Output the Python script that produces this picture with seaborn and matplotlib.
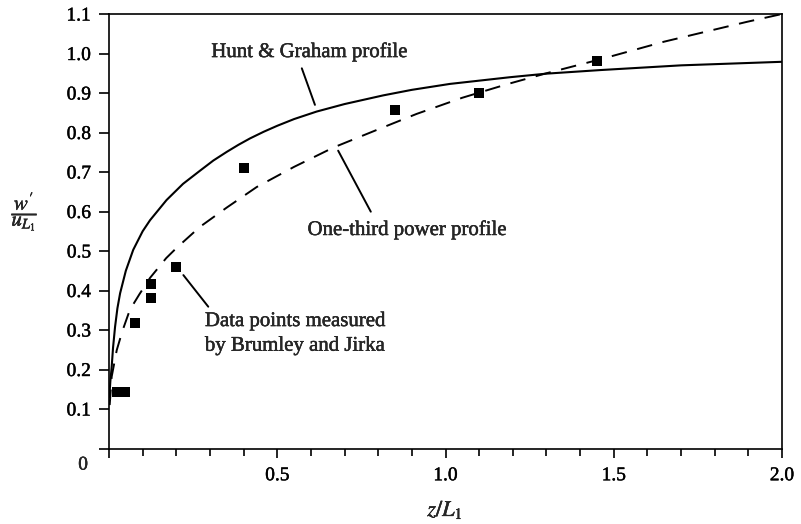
import numpy as np
import pandas as pd
import matplotlib
matplotlib.use("Agg")
import matplotlib.pyplot as plt
import matplotlib.patheffects as pe
import seaborn as sns
from matplotlib.ticker import MultipleLocator

# Hunt & Graham profile (solid curve)
hg_z = [0.001, 0.004, 0.008, 0.012, 0.018, 0.025, 0.033, 0.05, 0.072, 0.10, 0.122,
        0.171, 0.22, 0.270, 0.31, 0.350, 0.385, 0.419, 0.46, 0.50, 0.55, 0.617,
        0.70, 0.815, 0.90, 1.013, 1.192, 1.30, 1.459, 1.70, 2.0]
hg_w = [0.13, 0.17, 0.207, 0.255, 0.308, 0.355, 0.393, 0.45, 0.503, 0.55, 0.578,
        0.629, 0.67, 0.703, 0.729, 0.751, 0.769, 0.785, 0.802, 0.817, 0.834, 0.853,
        0.872, 0.894, 0.908, 0.923, 0.940, 0.949, 0.958, 0.970, 0.979]

# One-third power profile (dashed curve)
ot_z = [0.002, 0.008, 0.023, 0.04, 0.062, 0.09, 0.122, 0.17, 0.201, 0.27, 0.35,
        0.439, 0.55, 0.667, 0.80, 0.914, 1.05, 1.182, 1.30, 1.459, 1.65, 1.895, 2.0]
ot_w = [0.11, 0.182, 0.249, 0.298, 0.351, 0.39, 0.432, 0.482, 0.508, 0.561, 0.61,
        0.662, 0.713, 0.762, 0.808, 0.847, 0.888, 0.922, 0.95, 0.985, 1.03, 1.08, 1.10]

# Measurements by Brumley and Jirka
bj_z = [0.025, 0.048, 0.077, 0.125, 0.125, 0.20, 0.40, 0.85, 1.10, 1.45]
bj_w = [0.142, 0.142, 0.317, 0.416, 0.382, 0.46, 0.71, 0.857, 0.90, 0.98]

x_major = [0.0, 0.5, 1.0, 1.5, 2.0]
x_labels = ["", "0.5", "1.0", "1.5", "2.0"]
y_ticks = [round(0.1 * i, 1) for i in range(12)]
y_labels = [""] + [f"{v:.1f}" for v in y_ticks[1:]]

sns.set_theme(style="ticks")
plt.rcParams["font.family"] = ["Liberation Serif", "DejaVu Serif"]
plt.rcParams["mathtext.fontset"] = "stix"

ink = [pe.withStroke(linewidth=0.3, foreground="black")]

fig = plt.figure(figsize=(8.01, 5.24), dpi=100)
ax = fig.add_axes([109 / 801, 1 - 448.5 / 524, (782 - 109) / 801, (448.5 - 14) / 524])

hg = pd.DataFrame({"z": hg_z, "w": hg_w})
ot = pd.DataFrame({"z": ot_z, "w": ot_w})
bj = pd.DataFrame({"z": bj_z, "w": bj_w})

sns.lineplot(data=hg, x="z", y="w", ax=ax, color="black", lw=1.5, sort=False,
             estimator=None)
sns.lineplot(data=ot, x="z", y="w", ax=ax, color="black", lw=1.4, sort=False,
             estimator=None, linestyle=(0, (8.0, 5.5)))
sns.scatterplot(data=bj, x="z", y="w", ax=ax, marker="s", s=55, color="black",
                edgecolor="black", linewidth=0, zorder=5)

ax.set_xlim(0, 2.0)
ax.set_ylim(0, 1.1)
ax.set_xticks(x_major)
ax.set_xticklabels(x_labels)
ax.xaxis.set_minor_locator(MultipleLocator(0.1))
ax.set_yticks(y_ticks)
ax.set_yticklabels(y_labels)

for side in ["left", "right", "top", "bottom"]:
    ax.spines[side].set_visible(True)
    ax.spines[side].set_linewidth(1.2)
    ax.spines[side].set_color("black")

ax.tick_params(axis="both", which="major", direction="out", width=1.2,
               color="black", labelsize=14, labelcolor="black")
ax.tick_params(axis="y", which="major", length=7, pad=6)
ax.tick_params(axis="x", which="major", length=6.5, pad=7)
ax.tick_params(axis="x", which="minor", direction="out", length=5, width=1.2,
               color="black")

ax.set_xlabel("")
ax.set_ylabel("")

texts = list(ax.get_xticklabels()) + list(ax.get_yticklabels())

# shared origin label
texts.append(ax.text(-0.077, -0.042, "0", ha="center", va="center",
                     fontsize=14, clip_on=False))

# axis titles
texts.append(fig.text(445 / 801, 1 - 510 / 524, r"$z/L_1$", ha="center",
                      va="center", fontsize=16))
texts.append(fig.text(25 / 801, 1 - 212 / 524, r"$\dfrac{w^{\prime}}{u_{L_1}}$",
                      ha="center", va="center", fontsize=15))

# annotations with leader lines
lead = dict(arrowstyle="-", color="black", lw=1.4, shrinkA=0, shrinkB=0)
ax.annotate("", xy=(0.612, 0.870), xytext=(0.573, 0.9625), arrowprops=lead)
texts.append(ax.text(0.597, 0.991, "Hunt & Graham profile", ha="center",
                     va="baseline", fontsize=15))

ax.annotate("", xy=(0.681, 0.754), xytext=(0.778, 0.5995), arrowprops=lead)
texts.append(ax.text(0.887, 0.5405, "One-third power profile", ha="center",
                     va="baseline", fontsize=15))

ax.annotate("", xy=(0.221, 0.439), xytext=(0.295, 0.359), arrowprops=lead)
texts.append(ax.text(0.285, 0.310, "Data points measured", ha="left",
                     va="baseline", fontsize=15))
texts.append(ax.text(0.285, 0.2476, "by Brumley and Jirka", ha="left",
                     va="baseline", fontsize=15))

for t in texts:
    t.set_path_effects(ink)

fig.savefig("out.png", dpi=100)
